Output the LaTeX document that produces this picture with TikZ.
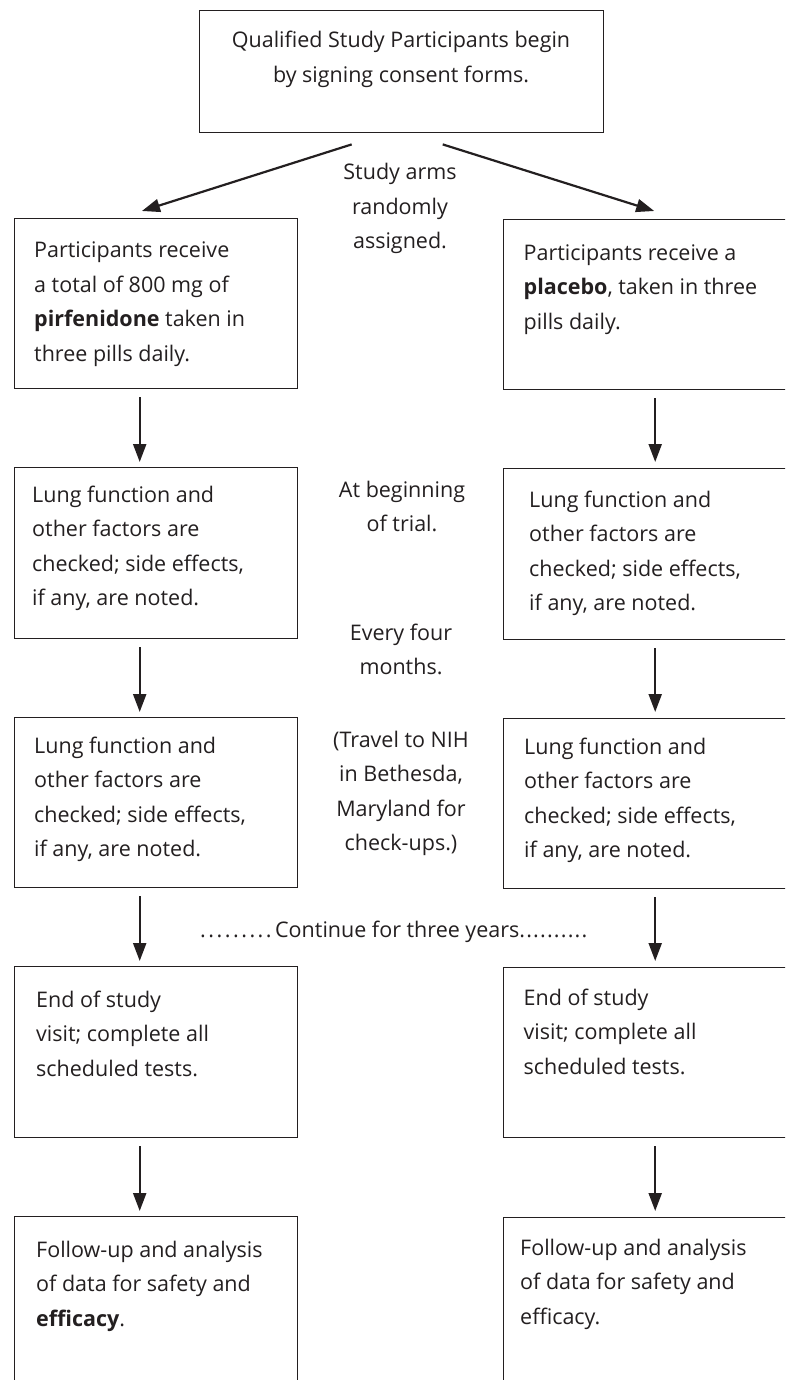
\documentclass[tikz,border=0pt]{standalone}
\usepackage{fontspec}
\setmainfont{Open Sans}
\usetikzlibrary{arrows.meta}
\definecolor{ink}{HTML}{231F20}
\newcommand\TL[1]{\vtop{\baselineskip=34.5pt\lineskiplimit=-50pt\halign{##\hfil\cr#1\crcr}}}
\newcommand\TC[1]{\vtop{\baselineskip=34.5pt\lineskiplimit=-50pt\halign{\hfil##\hfil\cr#1\crcr}}}
\newcommand\dotA{.\kern2.5pt}
\newcommand\dotB{.\kern1.2pt}
\begin{document}
\begin{tikzpicture}[x=1pt,y=-1pt,
  box/.style={draw=ink,line width=1.4pt,rectangle,inner sep=0pt,anchor=north west},
  lbox/.style={box,minimum width=283.5pt},
  rbox/.style={box,minimum width=290pt},
  txt/.style={inner sep=0pt,text=ink,font=\fontsize{21.5}{34.5}\selectfont},
  ltxt/.style={txt,anchor=base west},
  ctxt/.style={txt,anchor=base},
  arr/.style={draw=ink,line width=2.2pt,-{Triangle[length=18pt,width=13pt]}}]
\useasboundingbox (0,0) rectangle (785,1380);
\clip (0,0) rectangle (785,1380);
% boxes
\node[box,minimum width=404pt,minimum height=122pt] (T) at (199,10) {};
\node[lbox,minimum height=170pt] (L1) at (13.5,218) {};
\node[lbox,minimum height=171pt] (L2) at (13.5,467) {};
\node[lbox,minimum height=170pt] (L3) at (13.5,717) {};
\node[lbox,minimum height=171pt] (L4) at (13.5,966) {};
\node[lbox,minimum height=200pt] (L5) at (13.5,1216) {};
\node[rbox,minimum height=170pt] (R1) at (502.5,219) {};
\node[rbox,minimum height=171pt] (R2) at (502.5,468) {};
\node[rbox,minimum height=170pt] (R3) at (502.5,718) {};
\node[rbox,minimum height=170pt] (R4) at (502.5,967) {};
\node[rbox,minimum height=200pt] (R5) at (502.5,1217) {};
% texts
\node[ctxt] (tT) at (401,48) {\TC{Qualified Study Participants begin\cr by signing consent forms.}};
\node[ctxt] (tArms) at (400,180) {\TC{Study arms\cr randomly\cr assigned.}};
\node[ltxt] (tL1) at (34,258) {\TL{Participants receive\cr a total of 800 mg of\cr \textbf{pirfenidone} taken in\cr three pills daily.}};
\node[ltxt] (tR1) at (523.5,260) {\TL{Participants receive a\cr \textbf{placebo}, taken in three\cr pills daily.}};
\node[ltxt] (tL2) at (32,502) {\TL{Lung function and\cr other factors are\cr checked; side effects,\cr if any, are noted.}};
\node[ltxt] (tR2) at (529,507) {\TL{Lung function and\cr other factors are\cr checked; side effects,\cr if any, are noted.}};
\node[ctxt] (tM1) at (402,497) {\TC{At beginning\cr of trial.}};
\node[ctxt] (tM2) at (401,640) {\TC{Every four\cr months.}};
\node[ltxt] (tL3) at (34,753) {\TL{Lung function and\cr other factors are\cr checked; side effects,\cr if any, are noted.}};
\node[ltxt] (tR3) at (524,754) {\TL{Lung function and\cr other factors are\cr checked; side effects,\cr if any, are noted.}};
\node[ctxt] (tM3) at (401,747) {\TC{(Travel to NIH\cr in Bethesda,\cr Maryland for\cr check-ups.)}};
\node[ltxt] (tCont) at (200,937) {\dotA\dotA\dotA\dotA\dotA\dotA\dotA\dotA\dotA\kern1pt Continue for three years\dotB\dotB\dotB\dotB\dotB\dotB\dotB\dotB\dotB.};
\node[ltxt] (tL4) at (36,1007) {\TL{End of study\cr visit; complete all\cr scheduled tests.}};
\node[ltxt] (tR4) at (523.5,1005) {\TL{End of study\cr visit; complete all\cr scheduled tests.}};
\node[ltxt] (tL5) at (36,1257) {\TL{Follow-up and analysis\cr of data for safety and\cr \textbf{efficacy}.}};
\node[ltxt] (tR5) at (520,1255) {\TL{Follow-up and analysis\cr of data for safety and\cr efficacy.}};
% arrows
\draw[arr] ([xshift=-50pt,yshift=-11pt]T.south) -- ([xshift=-14pt,yshift=7pt]L1.north);
\draw[arr] ([xshift=41pt,yshift=-11pt]T.south) -- ([xshift=6pt,yshift=8pt]R1.north);
\foreach \a/\b in {L1/L2,L2/L3,L3/L4,L4/L5}
  \draw[arr] ([xshift=-16.25pt,yshift=-8pt]\a.south) -- ([xshift=-16.25pt,yshift=5pt]\b.north);
\foreach \a/\b in {R1/R2,R2/R3,R3/R4,R4/R5}
  \draw[arr] ([xshift=7pt,yshift=-8pt]\a.south) -- ([xshift=7pt,yshift=6pt]\b.north);
\end{tikzpicture}
\end{document}
